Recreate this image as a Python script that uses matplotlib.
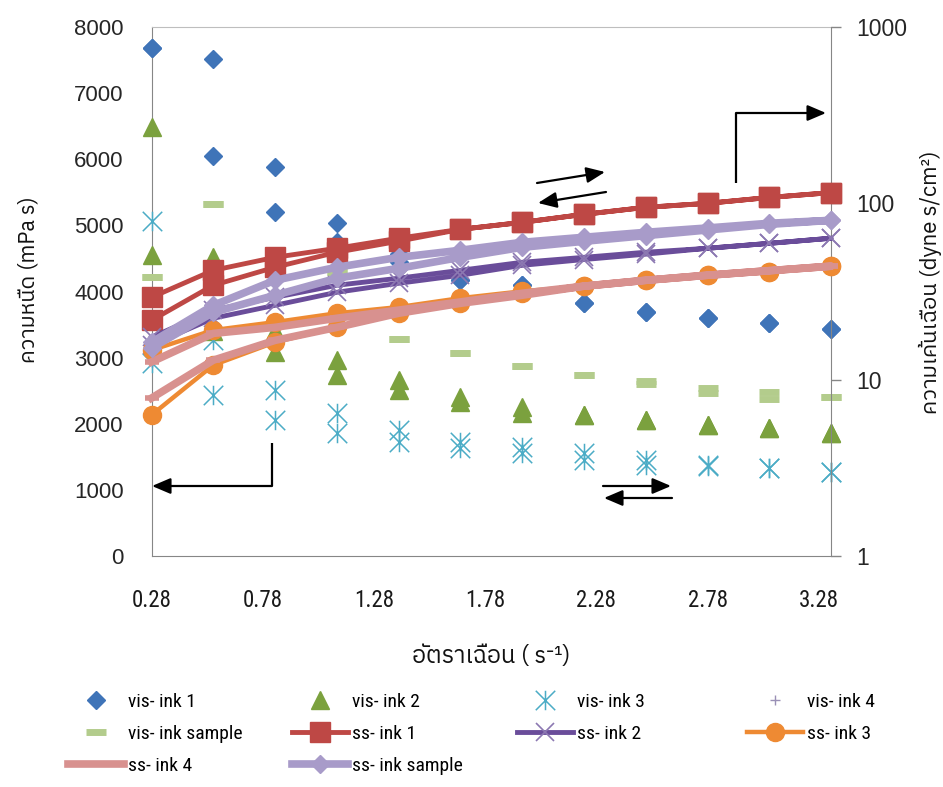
import numpy as np
import matplotlib
matplotlib.use("Agg")
import matplotlib.pyplot as plt
from matplotlib import font_manager
from matplotlib.path import Path
from matplotlib.ticker import NullLocator

# ---------------- data ----------------
shear_rate = [0.278, 0.556, 0.833, 1.111, 1.389, 1.667, 1.944, 2.222, 2.500, 2.778, 3.056, 3.333]
x_tick_pos = [0.278, 0.778, 1.278, 1.778, 2.278, 2.778, 3.278]
x_tick_labels = ["0.28", "0.78", "1.28", "1.78", "2.28", "2.78", "3.28"]
left_ticks = [0, 1000, 2000, 3000, 4000, 5000, 6000, 7000, 8000]
right_ticks = [1, 10, 100, 1000]

# viscosity (mPa s), two sweeps each
vis_ink1_a = [7680, 7520, 5880, 5040, 4560, 4180, 4100, 3830, 3690, 3600, 3520, 3430]
vis_ink1_b = [7680, 6050, 5200, 4750, 4450, 4180, 4100, 3830, 3690, 3600, 3520, 3430]
vis_ink2_a = [6490, 4520, 3400, 2970, 2660, 2400, 2250, 2130, 2060, 1980, 1930, 1860]
vis_ink2_b = [4550, 3400, 3090, 2740, 2510, 2330, 2170, 2130, 2060, 1980, 1930, 1860]
vis_ink3_a = [5070, 3270, 2510, 2160, 1910, 1720, 1650, 1560, 1450, 1380, 1330, 1270]
vis_ink3_b = [2920, 2440, 2060, 1860, 1720, 1630, 1560, 1450, 1380, 1360, 1330, 1270]
vis_ink4_a = [2940, 3370, 3460, 3600, 3720, 3840, 3980, 4090, 4180, 4250, 4330, 4390]
vis_ink4_b = [2940, 3370, 3460, 3600, 3720, 3840, 3980, 4090, 4180, 4250, 4330, 4390]
vis_smp_a = [4220, 5330, 4520, 4300, 3280, 3070, 2870, 2740, 2640, 2540, 2480, 2410]
vis_smp_b = [4220, 5330, 4520, 4300, 3280, 3070, 2870, 2740, 2600, 2470, 2380, 2410]

# shear stress (dyne s/cm2), two sweeps each
ss_ink1_a = [21.7, 34.3, 43.4, 52.8, 61.0, 71.2, 78.0, 86.6, 94.9, 100, 108, 115]
ss_ink1_b = [29.3, 41.7, 49.4, 55.6, 63.4, 71.2, 78.0, 86.6, 94.9, 100, 108, 115]
ss_ink2_a = [15.7, 22.3, 26.4, 31.3, 35.2, 39.1, 44.5, 48.0, 51.5, 55.6, 59.3, 63.4]
ss_ink2_b = [17.4, 24.8, 29.3, 34.3, 37.6, 41.7, 46.3, 49.4, 52.8, 55.6, 59.3, 63.4]
ss_ink3_a = [6.3, 12.1, 16.3, 19.8, 23.8, 27.1, 30.9, 33.9, 36.6, 39.1, 40.6, 44.0]
ss_ink3_b = [14.7, 19.1, 21.2, 23.8, 25.8, 29.0, 31.7, 33.9, 36.6, 39.1, 40.6, 44.0]
ss_ink4_a = [7.86, 12.9, 16.7, 19.8, 23.8, 27.1, 30.1, 33.9, 36.6, 39.1, 41.5, 44.0]
ss_ink4_b = [12.6, 18.3, 19.8, 22.3, 24.8, 27.6, 30.9, 33.9, 36.6, 39.1, 41.5, 44.0]
ss_smp_a = [15.1, 24.1, 30.1, 37.6, 42.8, 49.4, 56.3, 60.9, 65.6, 70.6, 76.0, 80.1]
ss_smp_b = [16.3, 26.4, 36.6, 43.4, 49.4, 54.2, 60.1, 64.2, 68.5, 72.5, 77.1, 80.1]

# ---------------- fonts ----------------
names = {f.name for f in font_manager.fontManager.ttflist}


def pick(*cands):
    for c in cands:
        if c in names:
            return c
    return "DejaVu Sans"


def find_thai():
    try:
        from matplotlib.ft2font import FT2Font
    except Exception:
        return None
    flist = sorted(font_manager.fontManager.ttflist,
                   key=lambda f: (0 if "thai" in f.name.lower() else 1, f.name))
    for f in flist:
        try:
            cm = FT2Font(f.fname).get_charmap()
            if 0x0E01 in cm and 0x0E37 in cm and 0x0E49 in cm:
                return f.name
        except Exception:
            pass
    return None


ARIAL = pick("Liberation Sans", "Arial", "DejaVu Sans")
NARROW = pick("Liberation Sans Narrow", "Roboto Condensed", "Liberation Sans")
THAI = find_thai()
thai_fam = ([THAI] if THAI else []) + [ARIAL, "DejaVu Sans"]
thai_fam_n = ([THAI] if THAI else []) + [NARROW, "DejaVu Sans"]

# ---------------- figure ----------------
W, H = 943, 787
fig = plt.figure(figsize=(W / 100, H / 100), dpi=100)
L, R, T, B = 151.5, 831.0, 27.0, 556.0
ax = fig.add_axes([L / W, (H - B) / H, (R - L) / W, (B - T) / H])
ax2 = ax.twinx()

ax.set_xlim(shear_rate[0], shear_rate[-1])
ax.set_ylim(left_ticks[0], left_ticks[-1])
ax2.set_yscale("log")
ax2.set_ylim(right_ticks[0], right_ticks[-1])

spc = "#868686"
for sp in ["left", "bottom"]:
    ax.spines[sp].set_color(spc)
ax.spines["top"].set_color("#BEBEBE")
ax.spines["right"].set_visible(False)
for sp in ["left", "top", "bottom"]:
    ax2.spines[sp].set_visible(False)
ax2.spines["right"].set_color(spc)

ax.set_xticks(x_tick_pos, labels=x_tick_labels, fontfamily=NARROW, fontsize=16.5)
ax.set_yticks(left_ticks, labels=[str(v) for v in left_ticks], fontfamily=ARIAL, fontsize=16)
ax2.set_yticks(right_ticks, labels=[str(v) for v in right_ticks], fontfamily=ARIAL, fontsize=16.5)
ax2.yaxis.set_minor_locator(NullLocator())
ax.tick_params(axis="x", length=0, pad=24, labelcolor="#1a1a1a")
ax.tick_params(axis="y", length=0, pad=20, labelcolor="#262626")
ax2.tick_params(axis="y", which="major", length=7, width=1, color=spc, pad=11, labelcolor="#262626")

# custom asterisk marker
star_path = Path([(0, -1), (0, 1), (-1, -1), (1, 1), (-1, 1), (1, -1)],
                 [Path.MOVETO, Path.LINETO, Path.MOVETO, Path.LINETO, Path.MOVETO, Path.LINETO])

xx = shear_rate + shear_rate
xpath = shear_rate + shear_rate[::-1]

h = {}
h["vis- ink 1"], = ax.plot(xx, vis_ink1_a + vis_ink1_b, ls="none", marker="D", ms=9,
                           color="#3F74B8", clip_on=False, zorder=3)
h["vis- ink 2"], = ax.plot(xx, vis_ink2_a + vis_ink2_b, ls="none", marker="^", ms=13,
                           color="#7BA13E", clip_on=False, zorder=3)
h["vis- ink 3"], = ax.plot(xx, vis_ink3_a + vis_ink3_b, ls="none", marker=star_path, ms=14,
                           mfc="none", mec="#4BACC6", mew=1.1, clip_on=False, zorder=3)
h["vis- ink 4"], = ax.plot(xx, vis_ink4_a + vis_ink4_b, ls="none", marker="+", ms=7,
                           mec="#9A90B6", mew=1.0, clip_on=False, zorder=1)
h["vis- ink sample"], = ax.plot(xx, vis_smp_a + vis_smp_b, ls="none", marker="_", ms=14,
                                mec="#B3CC8C", mew=5, clip_on=False, zorder=3)

h["ss- ink 1"], = ax2.plot(xpath, ss_ink1_a + ss_ink1_b[::-1], color="#BE4845", lw=3.5,
                           marker="s", ms=14, clip_on=False, zorder=3)
h["ss- ink 2"], = ax2.plot(xpath, ss_ink2_a + ss_ink2_b[::-1], color="#6A4D9A", lw=3.5,
                           marker="x", ms=13, mec="#8C78B2", mew=1.2, clip_on=False, zorder=3)
h["ss- ink 3"], = ax2.plot(xpath, ss_ink3_a + ss_ink3_b[::-1], color="#EE8A33", lw=3.2,
                           marker="o", ms=13, clip_on=False, zorder=3)
h["ss- ink 4"], = ax2.plot(xpath, ss_ink4_a + ss_ink4_b[::-1], color="#D8918F", lw=5.5,
                           marker="_", ms=10, mew=4, clip_on=False, zorder=3)
h["ss- ink sample"], = ax2.plot(xpath, ss_smp_a + ss_smp_b[::-1], color="#A89BC9", lw=5.5,
                                marker="D", ms=9, clip_on=False, zorder=3)

# axis titles
ax.set_xlabel("อัตราเฉือน ( s⁻¹)", fontfamily=thai_fam_n, fontsize=17, color="#111111")
ax.xaxis.set_label_coords(0.5, (B - 657) / (B - T))
ax.xaxis.label.set_va("center")
ax.set_ylabel("ความหนืด (mPa s)", fontfamily=thai_fam, fontsize=15.5, color="#111111")
ax.yaxis.set_label_coords((29 - L) / (R - L), (B - 280) / (B - T))
ax.yaxis.label.set_va("center")
ax2.set_ylabel("ความเค้นเฉือน (dyne s/cm²)", fontfamily=thai_fam, fontsize=16,
               color="#111111", rotation=90)
ax2.yaxis.set_label_coords((930 - L) / (R - L), (B - 282) / (B - T))
ax2.yaxis.label.set_va("center")


# arrows (pixel positions -> axes fraction)
def fx(px):
    return (px - L) / (R - L)


def fy(py):
    return (B - py) / (B - T)


def seg(p0, p1):
    ax2.plot([fx(p0[0]), fx(p1[0])], [fy(p0[1]), fy(p1[1])], color="black", lw=1.6,
             transform=ax2.transAxes, clip_on=False, zorder=6, solid_capstyle="butt")


def arrow(p0, p1):
    ax2.annotate("", xy=(fx(p1[0]), fy(p1[1])), xytext=(fx(p0[0]), fy(p0[1])),
                 xycoords="axes fraction", textcoords="axes fraction",
                 arrowprops=dict(arrowstyle="-|>,head_length=0.75,head_width=0.32",
                                 mutation_scale=15, lw=1.6, color="black",
                                 shrinkA=0, shrinkB=0), zorder=6)


seg((272, 443), (272, 486))
arrow((272, 486), (152, 486))
seg((736, 183), (736, 113))
arrow((736, 113), (826, 113))
arrow((537, 183), (605, 172))
arrow((606, 192), (538, 203))
arrow((603, 486), (671, 486))
arrow((672, 498), (604, 498))

# legend: four columns placed explicitly
cols = [["vis- ink 1", "vis- ink sample", "ss- ink 4"],
        ["vis- ink 2", "ss- ink 1", "ss- ink sample"],
        ["vis- ink 3", "ss- ink 2"],
        ["vis- ink 4", "ss- ink 3"]]
col_x = [68, 292, 517, 747]
for names_c, cx in zip(cols, col_x):
    fig.legend([h[n] for n in names_c], names_c, loc="upper left",
               bbox_to_anchor=(cx / W, 1 - 693 / H), frameon=False, ncol=1,
               handlelength=2.9, handletextpad=0.2, labelspacing=0.72,
               borderpad=0, borderaxespad=0, numpoints=1,
               prop=dict(family=NARROW, size=14))

fig.savefig("out.png", dpi=100)
